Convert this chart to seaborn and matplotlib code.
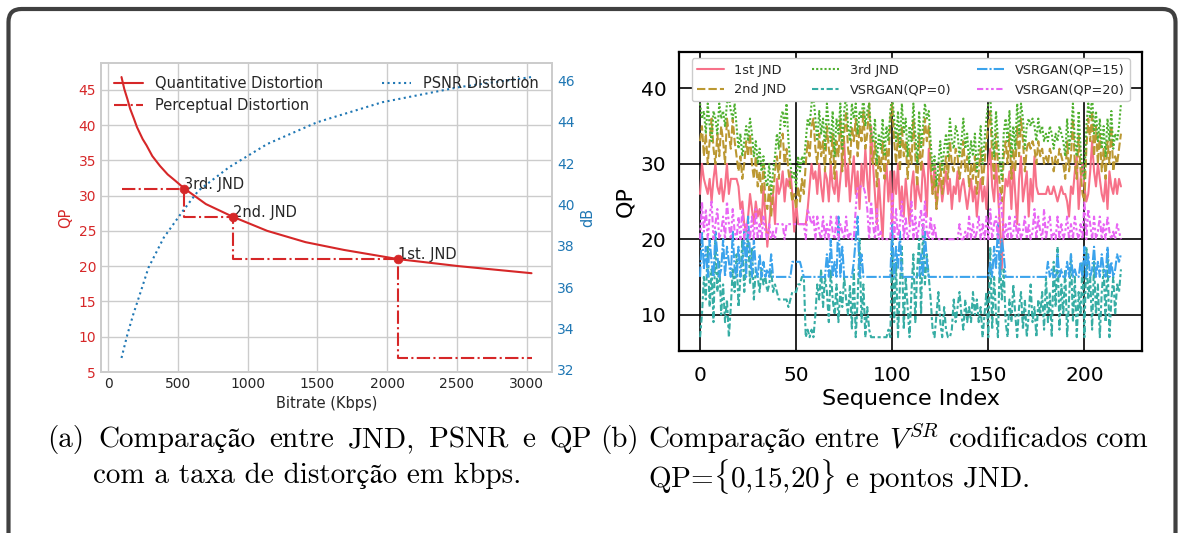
import matplotlib
matplotlib.use("Agg")
import matplotlib.pyplot as plt
import numpy as np
import pandas as pd
import seaborn as sns
from matplotlib.patches import FancyBboxPatch
from matplotlib.transforms import IdentityTransform

# ---- (a) rate / distortion curves ----
bitrate = [95, 115, 137, 157, 184, 206, 247, 275, 316, 371, 426, 481, 546, 700,
           893, 1140, 1415, 1690, 2078, 2514, 3035]
qp_curve = [46.8, 45.1, 43.7, 42.3, 40.9, 39.7, 38.0, 37.1, 35.6, 34.2, 33.0, 32.1,
            31.0, 28.8, 27.0, 25.0, 23.4, 22.3, 21.0, 20.0, 19.0]
psnr_rate = [95, 137, 179, 234, 288, 398, 536, 646, 865, 1140, 1497, 1964, 2514, 3035]
psnr_db = [32.57, 33.7, 34.67, 35.8, 36.93, 38.39, 39.69, 40.66, 41.79, 42.92,
           43.97, 44.94, 45.67, 46.16]
perc_x = [95, 546, 546, 893, 893, 2078, 2078, 3035]
perc_y = [31, 31, 27, 27, 21, 21, 7, 7]
jnd_x = [546, 893, 2078]
jnd_y = [31, 27, 21]
jnd_names = ["3rd. JND", "2nd. JND", "1st. JND"]

# ---- (b) per-sequence QP ----
jnd1 = [26,30,28,27,26,28,25,28,30,27,26,28,25,27,30,26,28,28,28,28,
        27,24,25,22,21,23,26,24,22,25,23,24,22,27,23,19,22,25,26,22,
        28,26,27,29,25,28,27,29,26,21,25,22,22,22,22,22,24,27,30,28,
        29,26,30,27,25,29,28,25,30,27,26,29,25,28,31,33,27,30,25,28,
        31,26,29,24,30,27,32,28,25,35,30,26,22,28,24,20,27,30,25,29,
        22,29,26,30,24,27,23,28,25,22,27,29,24,28,26,25,30,28,23,32,
        29,26,30,24,27,28,25,27,29,26,28,24,27,26,29,25,27,28,26,24,
        26,28,25,27,23,26,28,25,27,24,30,32,27,25,30,26,22,16,25,28,
        27,29,24,30,26,22,28,31,25,27,29,23,28,25,31,27,26,26,26,26,
        26,27,26,26,27,26,25,26,27,26,26,25,23,27,26,29,31,24,28,30,
        27,25,26,29,33,29,27,30,28,26,25,28,24,29,27,26,28,26,28,27]
jnd2 = [33,35,31,34,30,33,36,32,30,34,31,35,33,30,36,34,32,36,33,31,
        29,31,28,30,33,31,34,30,28,31,27,29,26,30,25,24,27,23,26,29,
        31,28,33,34,30,32,29,27,25,26,24,27,25,28,26,30,33,31,35,36,
        32,30,34,31,33,29,35,32,30,34,28,33,31,36,29,34,37,32,30,35,
        33,36,31,35,33,37,32,34,38,31,30,33,27,31,29,33,28,32,30,36,
        38,33,30,34,29,35,31,33,28,32,30,36,31,27,34,29,32,36,33,35,
        30,26,28,24,27,30,26,29,31,28,33,30,29,32,31,28,30,33,29,31,
        27,30,28,31,26,29,32,27,30,33,35,37,31,28,34,30,27,25,31,33,
        30,34,28,32,29,35,31,36,33,29,32,33,32,33,32,30,33,31,32,30,
        31,30,32,31,29,31,30,32,31,30,28,33,29,31,36,30,28,34,29,26,
        25,32,36,33,37,31,35,30,34,29,32,28,33,30,35,29,31,30,32,34]
jnd3 = [38,36,37,34,38,35,33,37,36,34,38,36,37,35,38,39,37,36,38,35,
        32,34,31,33,35,33,36,34,31,33,30,32,29,31,28,27,30,26,29,31,
        34,32,36,37,35,38,33,30,28,29,27,31,29,31,30,33,36,35,38,39,
        36,33,37,34,36,32,38,35,33,37,31,36,34,38,32,37,39,35,33,38,
        36,38,34,37,36,39,35,37,38,34,33,36,30,34,32,36,31,35,33,37,
        39,36,33,37,32,38,34,36,31,35,33,38,34,30,37,32,35,38,36,37,
        33,29,31,27,30,33,29,32,34,31,36,33,32,35,34,31,33,36,32,34,
        30,33,31,34,29,32,35,30,33,36,38,39,34,31,37,33,30,28,34,36,
        33,37,31,35,32,38,34,38,36,32,35,36,35,36,35,33,36,34,35,33,
        34,33,35,34,32,34,33,35,34,33,31,36,32,34,38,33,31,37,32,29,
        28,35,38,36,39,34,37,33,36,32,35,31,36,33,37,32,34,33,35,38]
vsr0 = [7,10,15,12,19,11,16,9,20,13,17,10,14,9,12,7,11,16,13,18,
        11,15,20,13,17,21,14,19,12,16,15,13,16,14,15,13,14,16,13,14,
        13,12,12,12,12,12,11,12,13,13,13,14,14,15,15,7,8,7,8,7,
        10,14,12,16,11,15,13,9,16,12,10,14,9,13,11,15,12,10,14,8,
        16,7,12,20,9,14,7,11,8,7,7,7,7,7,7,7,7,7,8,7,
        20,9,17,7,14,19,8,15,11,7,13,18,9,16,20,10,22,14,18,15,
        12,8,7,10,13,9,7,11,8,7,7,8,12,9,11,13,10,8,12,9,
        11,9,13,10,12,9,11,7,10,13,7,19,8,15,10,7,18,12,16,9,
        7,12,9,14,10,7,11,13,8,12,7,10,14,9,11,7,12,10,13,8,
        15,9,13,7,17,11,19,8,14,10,16,7,12,18,9,15,7,13,10,17,
        7,19,12,15,8,17,10,14,7,13,16,9,18,7,12,15,10,14,13,16]
vsr15 = [15,21,16,19,15,20,17,15,21,18,15,16,20,15,19,17,15,21,16,15,
         19,15,17,21,15,23,18,15,20,16,15,18,15,17,15,16,15,18,15,15,
         15,15,15,15,15,15,15,15,17,17,17,17,17,16,15,15,15,15,15,15,
         15,15,15,15,15,15,18,15,20,15,17,15,23,15,19,15,15,15,15,15,
         17,20,23,15,18,15,15,15,15,15,15,15,15,15,15,15,15,15,15,15,
         22,15,19,16,21,15,15,15,15,15,15,15,15,15,15,18,15,21,17,15,
         15,15,15,15,15,15,15,15,15,15,15,15,15,15,15,15,15,15,15,15,
         15,15,15,15,15,15,15,15,15,15,15,17,15,19,16,22,15,20,18,15,
         15,15,15,15,15,15,15,15,15,15,15,15,15,15,15,15,15,15,15,15,
         15,17,15,16,15,15,18,15,16,15,15,17,15,18,15,16,15,15,17,15,
         19,15,18,15,16,19,15,17,15,18,16,15,19,15,17,15,16,18,17,18]
vsr20 = [20,25,21,24,20,23,25,20,22,24,20,21,23,20,25,22,20,24,21,20,
         23,20,24,20,22,21,20,23,20,24,20,22,20,23,21,20,22,20,21,20,
         22,22,22,22,20,22,22,22,22,22,22,22,22,22,22,20,24,23,22,23,
         20,23,21,20,23,20,22,20,23,21,20,23,20,22,21,20,23,20,21,20,
         20,24,27,27,27,27,26,24,20,25,22,20,24,20,21,20,20,20,20,20,
         26,20,24,20,22,25,20,23,20,21,25,20,23,20,22,24,20,25,21,20,
         23,20,22,20,20,20,20,20,20,20,20,20,20,20,20,22,20,20,21,20,
         23,20,22,20,21,23,20,22,20,23,20,24,20,22,23,20,26,24,20,22,
         20,23,20,21,23,20,22,20,21,23,20,22,20,21,24,20,23,21,20,24,
         20,22,23,20,21,20,23,20,22,20,21,23,20,22,20,23,21,20,22,20,
         25,20,24,22,20,23,20,21,23,20,22,20,23,21,20,21,20,22,21,20]
series_names = ["1st JND", "2nd JND", "3rd JND",
                "VSRGAN(QP=0)", "VSRGAN(QP=15)", "VSRGAN(QP=20)"]

W, H = 1184, 533
red = "#d62728"
blue = "#1f77b4"

sns.set_theme(style="whitegrid")
plt.rcParams["font.family"] = ["DejaVu Sans"]
plt.rcParams["mathtext.fontset"] = "cm"

fig = plt.figure(figsize=(W / 100, H / 100), dpi=100)

# frame around everything
frame = FancyBboxPatch((8.5, -14), W - 17, H - 9 + 14,
                       boxstyle="round,pad=0,rounding_size=13",
                       transform=IdentityTransform(), fill=False,
                       edgecolor="#404040", linewidth=3)
fig.add_artist(frame)

# ---------- left ----------
ax1 = fig.add_axes([101 / W, 1 - 372 / H, 451 / W, 309 / H])
sns.lineplot(x=bitrate, y=qp_curve, ax=ax1, color=red, lw=1.5,
             label="Quantitative Distortion")
sns.lineplot(x=perc_x, y=perc_y, ax=ax1, color=red, lw=1.5, sort=False,
             estimator=None, label="Perceptual Distortion")
ax1.lines[-1].set_linestyle("-.")
sns.scatterplot(x=jnd_x, y=jnd_y, ax=ax1, color=red, edgecolor=red, s=40,
                zorder=4, legend=False)
for x, y, t in zip(jnd_x, jnd_y, jnd_names):
    ax1.text(x, y, t, ha="left", va="baseline", fontsize=10.5, color=".15")
ax1.set_xticks(range(0, 3001, 500))
ax1.set_yticks(range(5, 46, 5))
ax1.tick_params(axis="y", colors=red, labelsize=10, length=0)
ax1.tick_params(axis="x", labelsize=10, length=0)
ax1.set_ylabel("QP", color=red, fontsize=10.5)
ax1.set_xlabel("Bitrate (Kbps)", fontsize=10.5)
ax1.legend(loc="upper left", frameon=False, fontsize=10.5)

ax2 = ax1.twinx()
sns.lineplot(x=psnr_rate, y=psnr_db, ax=ax2, color=blue, lw=1.5,
             label="PSNR Distortion")
ax2.lines[-1].set_linestyle(":")
ax2.grid(False)
ax2.set_yticks(range(32, 47, 2))
ax2.tick_params(axis="y", colors=blue, labelsize=10, length=0)
ax2.set_ylabel("dB", color=blue, fontsize=10.5)
ax2.legend(loc="upper right", frameon=False, fontsize=10.5)

# ---------- right ----------
df = pd.DataFrame({n: v for n, v in zip(series_names, [jnd1, jnd2, jnd3, vsr0, vsr15, vsr20])})
df["idx"] = np.arange(len(jnd1))
long = df.melt(id_vars="idx", var_name="series", value_name="QP")

ax3 = fig.add_axes([679 / W, 1 - 351 / H, 463 / W, 299 / H])
sns.lineplot(data=long, x="idx", y="QP", hue="series", style="series",
             palette="husl", ax=ax3, lw=1.5)
ax3.set_facecolor("white")
for s in ax3.spines.values():
    s.set_color("black")
    s.set_linewidth(1.6)
ax3.grid(True, color="black", lw=1.2)
ax3.set_ylim(5.17, 44.83)
ax3.set_xticks([0, 50, 100, 150, 200])
ax3.set_yticks([10, 20, 30, 40])
ax3.tick_params(labelsize=14.5, length=0, pad=9, colors="black")
ax3.tick_params(axis="x", pad=11)
ax3.set_xlabel("Sequence Index", fontsize=16, color="black", labelpad=3)
ax3.set_ylabel("QP", fontsize=16, color="black")
sns.move_legend(ax3, "upper center", ncol=3, title=None, fontsize=9.3,
                handlelength=2.1, frameon=True, framealpha=1, edgecolor="0.8")

# ---------- captions ----------
cap_font = ["cmr10", "STIXGeneral", "DejaVu Serif"]
renderer = fig.canvas.get_renderer()


def justify(words, x0, x1, y, size=21):
    txts = [fig.text(0, 1 - y / H, w, fontsize=size, family=cap_font,
                     va="center", ha="left", color="black") for w in words]
    widths = [t.get_window_extent(renderer).width for t in txts]
    gap = (x1 - x0 - sum(widths)) / (len(words) - 1)
    x = x0
    for t, w in zip(txts, widths):
        t.set_x(x / W)
        x += w + gap


justify(["(a)", "Comparação", "entre", "JND,", "PSNR", "e", "QP"], 47, 592, 440)
fig.text(93 / W, 1 - 476 / H, "com a taxa de distorção em kbps.", fontsize=21,
         family=cap_font, va="center", ha="left", color="black")
justify(["(b)", "Comparação", "entre", "$V^{SR}$", "codificados", "com"], 600, 1148, 440)
fig.text(648 / W, 1 - 476 / H, r"QP=$\{$0,15,20$\}$ e pontos JND.", fontsize=21,
         family=cap_font, va="center", ha="left", color="black")

fig.savefig("out.png", dpi=100)
